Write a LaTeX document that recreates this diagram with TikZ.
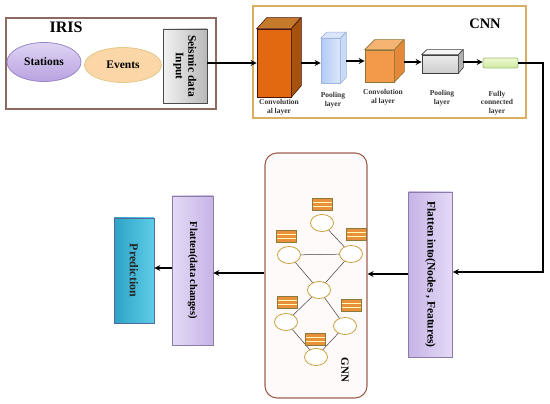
\documentclass[tikz,border=0pt]{standalone}
\usepackage{fontspec}
\setmainfont{Liberation Serif}
\usetikzlibrary{arrows.meta,shapes.geometric}
\definecolor{irisborder}{HTML}{8B6A60}
\definecolor{cnnborder}{HTML}{D8B060}
\definecolor{gnnborder}{HTML}{A06050}
\definecolor{nodegold}{HTML}{C8A040}
\definecolor{featorange}{HTML}{E8903C}
\definecolor{featborder}{HTML}{8C7A3A}
\definecolor{lavA}{HTML}{E4DAF6}
\definecolor{lavB}{HTML}{C6B4E6}
\definecolor{lavline}{HTML}{8A7CA8}
\definecolor{stA}{HTML}{E0D4F4}
\definecolor{stB}{HTML}{B9A2E0}
\definecolor{stline}{HTML}{9888C8}
\definecolor{evfill}{HTML}{FBD6A6}
\definecolor{evline}{HTML}{E2CA8A}
\definecolor{cAfront}{HTML}{E2690F}
\definecolor{cAtop}{HTML}{C47A2A}
\definecolor{cAside}{HTML}{A4520E}
\definecolor{cAline}{HTML}{4A140A}
\definecolor{pAfront}{HTML}{B2CAF4}
\definecolor{pAlight}{HTML}{DCE6FA}
\definecolor{pAline}{HTML}{9CB2E0}
\definecolor{cBfront}{HTML}{F39A4A}
\definecolor{cBtop}{HTML}{F6B472}
\definecolor{cBside}{HTML}{E5883A}
\definecolor{cBline}{HTML}{8C7434}
\definecolor{fcA}{HTML}{EEF8D2}
\definecolor{fcB}{HTML}{CDEAA0}
\definecolor{fcline}{HTML}{9CC070}
\definecolor{prA}{HTML}{2FA3C6}
\definecolor{prB}{HTML}{5CCDE8}
\definecolor{prline}{HTML}{5468A0}
\tikzset{
  arr/.style={-{Stealth[length=6pt,width=6pt]}, line width=1.1pt, black},
  lbl/.style={font=\fontsize{7.5}{8.5}\selectfont\bfseries, align=center, text=black!80},
  vbox/.style={draw, line width=0.6pt, minimum width=0pt, inner sep=0pt},
  gnode/.style={ellipse, draw=nodegold, line width=0.8pt, fill=white, minimum width=23pt, minimum height=17pt, inner sep=0pt},
  edge/.style={draw=black!75, line width=0.5pt},
  feat/.style={rectangle, draw=featborder, line width=0.6pt, fill=featorange, minimum width=20pt, minimum height=12pt, inner sep=0pt,
    path picture={
      \draw[yellow!30!white, line width=0.8pt] ([yshift=2pt]path picture bounding box.west) -- ([yshift=2pt]path picture bounding box.east);
      \draw[yellow!30!white, line width=0.8pt] ([yshift=-2pt]path picture bounding box.west) -- ([yshift=-2pt]path picture bounding box.east);
    }},
}
\begin{document}
\begin{tikzpicture}[x=1pt,y=-1pt]
\useasboundingbox (0,0) rectangle (550,404);

% ---------- IRIS ----------
\node[draw=irisborder, line width=1.2pt, minimum width=210pt, minimum height=91pt, inner sep=0pt] (iris) at (111,63.5) {};
\node[font=\fontsize{16}{18}\selectfont\bfseries] (iristitle) at (66,27) {IRIS};
\node[ellipse, draw=stline, line width=0.8pt, top color=stA, bottom color=stB, minimum width=74pt, minimum height=39pt, inner sep=0pt,
  font=\fontsize{11.5}{12}\selectfont\bfseries] (stations) at (44,62) {Stations};
\node[ellipse, draw=evline, line width=0.8pt, fill=evfill, minimum width=77pt, minimum height=35pt, inner sep=0pt,
  font=\fontsize{11.5}{12}\selectfont\bfseries] (events) at (123,65) {Events};
\node[draw=black!70, line width=0.7pt, left color=gray!10, right color=gray!55, minimum width=44pt, minimum height=74pt, inner sep=0pt] (seis) at (185,66) {};
\node[rotate=-90, font=\fontsize{11.5}{12.5}\selectfont\bfseries, align=center] (seistxt) at (seis.center) {Seismic data\\Input};

% ---------- CNN ----------
\node[draw=cnnborder, line width=1.2pt, minimum width=273pt, minimum height=112pt, inner sep=0pt] (cnn) at (389.5,62) {};
\node[font=\fontsize{14.5}{16}\selectfont\bfseries] (cnntitle) at (485,24) {CNN};

% conv 1
\node[vbox, draw=cAline, fill=cAfront, minimum width=34pt, minimum height=68pt] (c1) at (274,63) {};
\fill[cAtop, draw=cAline, line width=0.6pt] (c1.north west) -- ++(10,-11) -- ++(34,0) -- (c1.north east) -- cycle;
\fill[cAside, draw=cAline, line width=0.6pt] (c1.north east) -- ++(10,-11) -- ++(0,68) -- (c1.south east) -- cycle;
\coordinate (c1r) at (301,63);
\node[lbl] (c1l) at (279,107) {Convolution\\al layer};

% pool 1
\node[vbox, draw=pAline, left color=pAfront, right color=pAlight, minimum width=19pt, minimum height=45pt] (p1) at (330.5,61) {};
\fill[pAlight, draw=pAline, line width=0.6pt] (p1.north west) -- ++(6,-6) -- ++(19,0) -- (p1.north east) -- cycle;
\fill[pAfront!70!white, draw=pAline, line width=0.6pt] (p1.north east) -- ++(6,-6) -- ++(0,45) -- (p1.south east) -- cycle;
\coordinate (p1r) at (346,61);
\node[lbl] (p1l) at (333,100) {Pooling\\layer};

% conv 2
\node[vbox, draw=cBline, fill=cBfront, minimum width=29pt, minimum height=32pt] (c2) at (379.5,66) {};
\fill[cBtop, draw=cBline, line width=0.6pt] (c2.north west) -- ++(10,-10) -- ++(29,0) -- (c2.north east) -- cycle;
\fill[cBside, draw=cBline, line width=0.6pt] (c2.north east) -- ++(10,-10) -- ++(0,32) -- (c2.south east) -- cycle;
\coordinate (c2r) at (404,62);
\node[lbl] (c2l) at (383,97) {Convolution\\al layer};

% pool 2
\node[vbox, draw=black!75, top color=gray!15, bottom color=gray!40, minimum width=36pt, minimum height=18pt] (p2) at (440,64) {};
\fill[gray!8, draw=black!75, line width=0.6pt] (p2.north west) -- ++(5,-5) -- ++(36,0) -- (p2.north east) -- cycle;
\fill[gray!60, draw=black!75, line width=0.6pt] (p2.north east) -- ++(5,-5) -- ++(0,18) -- (p2.south east) -- cycle;
\coordinate (p2r) at (463,62);
\node[lbl] (p2l) at (442,98) {Pooling\\layer};

% fully connected
\node[draw=fcline, line width=0.7pt, rounded corners=2pt, top color=fcA, bottom color=fcB, minimum width=35pt, minimum height=10pt, inner sep=0pt] (fc) at (500.5,63) {};
\node[lbl] (fcl) at (497,103) {Fully\\connected\\layer};

\coordinate (turn1) at (543,63);
\coordinate (turn2) at (543,272);

% ---------- Flatten into ----------
\node[draw=lavline, line width=0.7pt, left color=lavB, right color=lavA, minimum width=44pt, minimum height=165pt, inner sep=0pt] (flatin) at (430.5,274.5) {};
\node[rotate=-90, font=\fontsize{11.5}{13}\selectfont\bfseries] (flatintxt) at (flatin.center) {Flatten into(Nodes , Features)};

% ---------- GNN ----------
\node[draw=gnnborder, line width=1.1pt, rounded corners=12pt, fill=red!2, minimum width=102pt, minimum height=245pt, inner sep=0pt] (gnn) at (316,275.5) {};
\node[rotate=-90, font=\fontsize{11}{12}\selectfont\bfseries] (gnntxt) at (345,370) {GNN};

\node[gnode] (n1) at (322,223) {};
\node[gnode] (n2) at (289,255) {};
\node[gnode] (n3) at (351,254) {};
\node[gnode] (n4) at (319,290) {};
\node[gnode] (n5) at (286,322) {};
\node[gnode] (n6) at (345,326) {};
\node[gnode] (n7) at (316,357) {};
\draw[edge] (n1) -- (n3);
\draw[edge] (n2) -- (n3);
\draw[edge] (n2) -- (n4);
\draw[edge] (n3) -- (n4);
\draw[edge] (n4) -- (n5);
\draw[edge] (n4) -- (n6);
\draw[edge] (n5) -- (n7);
\draw[edge] (n6) -- (n7);

\node[feat] (f1) at (322,204) {};
\node[feat] (f2) at (286,236) {};
\node[feat] (f3) at (356,234) {};
\node[feat] (f4) at (287,302) {};
\node[feat] (f5) at (351,305) {};
\node[feat] (f6) at (315,339) {};

% ---------- Flatten(data changes) ----------
\node[draw=lavline, line width=0.7pt, left color=lavA, right color=lavB, minimum width=41pt, minimum height=149pt, inner sep=0pt] (flatout) at (192.5,270.5) {};
\node[rotate=-90, font=\fontsize{10.5}{12}\selectfont\bfseries] (flatouttxt) at (flatout.center) {Flatten(data changes)};

% ---------- Prediction ----------
\node[draw=prline, line width=0.7pt, left color=prA, right color=prB, minimum width=40pt, minimum height=105pt, inner sep=0pt] (pred) at (134,270.5) {};
\node[rotate=-90, font=\fontsize{12}{13}\selectfont\bfseries, text=black!85] (predtxt) at (pred.center) {Prediction};

% ---------- arrows ----------
\draw[arr] (seis.east |- 0,63) -- (c1.west |- 0,63);
\draw[arr] (c1r) -- (p1.west |- c1r);
\draw[arr] (p1r) -- (c2.west |- p1r);
\draw[arr] (c2r) -- (p2.west |- c2r);
\draw[arr] (p2r) -- (fc.west |- p2r);
\draw[arr] (fc.east) -- (turn1) -- (turn2) -- (flatin.east |- turn2);
\draw[arr] (flatin.west |- 0,274) -- (gnn.east |- 0,274);
\draw[arr] (gnn.west |- 0,273) -- (flatout.east |- 0,273);
\draw[arr] (flatout.west |- 0,268) -- (pred.east |- 0,268);
\end{tikzpicture}
\end{document}
